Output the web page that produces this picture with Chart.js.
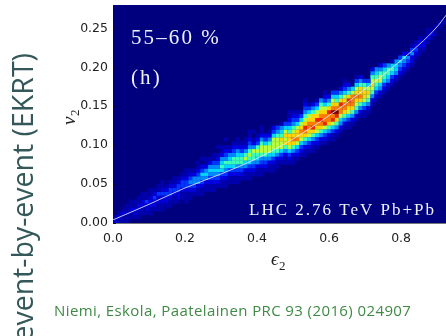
<!DOCTYPE html>
<html><head><meta charset="utf-8">
<script src="https://cdn.jsdelivr.net/npm/chart.js@4"></script>
<style>html,body{margin:0;background:#fff;overflow:hidden}#w{width:446px;height:336px;overflow:hidden;filter:blur(0.45px)}canvas{display:block}</style>
</head><body><div id="w"><canvas id="c" width="449" height="336"></canvas></div>
<script>
const xTicks=[0,0.2,0.4,0.6,0.8];
const yTicks=[0,0.05,0.10,0.15,0.20,0.25];
const xBin=0.011, yBin=0.005;
// one entry per eps2 column: first v2 row, then count level per row going up
const colStart=[0,0,0,0,1,1,1,2,2,2,3,3,3,4,4,5,5,6,5,6,7,7,7,8,8,8,9,9,9,10,10,10,11,11,11,12,12,12,13,13,13,14,15,15,15,15,16,17,17,18,18,19,20,20,21,21,22,23,24,24,25,26,27,27,28,30,31,32,33,34,35,36,37,38,39,40,42,43,44,46,47,48,50,51];
const colLevels=[
"21","121","1121","11211","11211","12211","112211","112211","122311","1122211",
"122321","1122311","11223211","122321","1123321","1123211","1223321","1123321","111233211","11234321",
"12344210","112443211","1123453201","112454211","1123454210","11234543110","12345432101","112356542110","1123456432101","11235654210",
"112356643210","1123466542110","12346653210","112457642110","1123567643211","123466742101","112456763210","1123467764211","12346775320","11245776421",
"1123567775320","11246777643","12357786541","11246878753","12357888653211","11246898764321","1235798875321","123578987531","1124689a8764321","1235789987531",
"112468a988642","1235789a87531","124689a98764","12357a99875321","1246899a8642","11357a9b98753","12468ab98653","1245799a8642","1246899875321","1135789a8642",
"1246899975","124678987531","12468988642","1135788763","124678753","1246787642","123567654","124577642","12356653","1245664",
"1235651","124554","123453","123452","12342","122431","12321","11221","1221","1211",
"121","111","11","1"
];
const lineE=[0,0.1,0.2,0.3,0.4,0.5,0.6,0.7,0.8,0.9,0.925];
const lineV=[0.004,0.024,0.045,0.063,0.083,0.108,0.138,0.172,0.209,0.252,0.267];
const labelCent="55\u201360 %", labelPanel="(h)", labelBeam="LHC 2.76 TeV Pb+Pb";
const sideLabel="event-by-event (EKRT)";
const citation="Niemi, Eskola, Paatelainen PRC 93 (2016) 024907";
const levelColors={1:"#0000ad",2:"#0000e0",3:"#0034ff",4:"#0088ff",5:"#00d4ff",6:"#3effb8",7:"#b8ff3e",8:"#ffd400",9:"#ff7a00",a:"#f02000",b:"#800000"};

const cells={};
colLevels.forEach((s,i)=>{[...s].forEach((ch,k)=>{
  if(ch==="0")return;
  (cells[ch]=cells[ch]||[]).push({x:(i+0.5)*xBin,y:(colStart[i]+k+0.5)*yBin});
});});
const datasets=Object.keys(cells).map(k=>({type:"scatter",data:cells[k],pointStyle:"rect",pointRadius:2.9,pointHoverRadius:2.9,pointBorderWidth:0,backgroundColor:levelColors[k],borderWidth:0,order:2,clip:true}));
datasets.push({type:"scatter",showLine:true,data:lineE.map((e,i)=>({x:e,y:lineV[i]})),pointRadius:0,borderColor:"rgba(225,232,255,0.85)",borderWidth:1,cubicInterpolationMode:"monotone",order:0});

const textPlugin={id:"t",
 beforeDatasetsDraw(ch){const a=ch.chartArea,c=ch.ctx;c.save();c.fillStyle="#00007f";c.fillRect(a.left,a.top,a.right-a.left,a.bottom-a.top);c.restore();},
 afterDraw(ch){const c=ch.ctx,a=ch.chartArea,sx=ch.scales.x,sy=ch.scales.y;c.save();
  c.strokeStyle="#111";c.lineWidth=1;c.beginPath();
  xTicks.forEach(v=>{const p=Math.round(sx.getPixelForValue(v))+.5;c.moveTo(p,a.top);c.lineTo(p,a.top+3);c.moveTo(p,a.bottom);c.lineTo(p,a.bottom-3);});
  yTicks.forEach(v=>{const p=Math.round(sy.getPixelForValue(v))+.5;c.moveTo(a.left,p);c.lineTo(a.left+3,p);});
  c.stroke();
  c.fillStyle="#eef2ff";c.textBaseline="alphabetic";
  c.font='21px "Liberation Serif"';c.letterSpacing="2.1px";
  c.fillText(labelCent,131,44);c.fillText(labelPanel,131,84);
  c.font='17px "Liberation Serif"';c.letterSpacing="2px";
  c.fillText(labelBeam,249,215);
  c.letterSpacing="0px";
  c.fillStyle="#222";
  c.save();c.translate(75,125);c.rotate(-Math.PI/2);
  c.font='italic 19px "Liberation Serif"';c.fillText("v",0,0);
  c.font='13px "Liberation Serif"';c.fillText("2",9,4);c.restore();
  c.font='italic 19px "Liberation Serif"';c.fillText("\u03f5",271,265);
  c.font='13px "Liberation Serif"';c.fillText("2",279,270);
  c.fillStyle="#3f8a45";c.font='15px "Open Sans"';c.letterSpacing="0.4px";c.fillText(citation,54,316);c.letterSpacing="0px";
  c.save();c.translate(33,53);c.rotate(-Math.PI/2);c.textAlign="right";
  c.fillStyle="#34585a";c.font='28.5px "Open Sans"';c.fillText(sideLabel,0,0);c.restore();
  c.restore();
 }};

new Chart(document.getElementById("c"),{
 data:{datasets},
 plugins:[textPlugin],
 options:{responsive:false,animation:false,events:[],
  layout:{padding:{top:5,right:0,left:0,bottom:0}},
  plugins:{legend:{display:false},tooltip:{enabled:false}},
  scales:{
   x:{type:"linear",min:0,max:0.925,afterFit:s=>{s.height=113;s.paddingLeft=0;s.paddingRight=0;},
      afterBuildTicks:s=>{s.ticks=xTicks.map(v=>({value:v}));},
      border:{color:"#777"},grid:{display:false,drawTicks:false},
      ticks:{color:"#222",padding:8,maxRotation:0,font:{family:"DejaVu Sans",size:12.5},callback:v=>v.toFixed(1)}},
   y:{type:"linear",min:0,max:0.28,afterFit:s=>{s.width=113;s.paddingTop=0;s.paddingBottom=0;},
      afterBuildTicks:s=>{s.ticks=yTicks.map(v=>({value:v}));},
      border:{color:"#999"},grid:{display:false,drawTicks:false},
      ticks:{color:"#222",padding:5,font:{family:"DejaVu Sans",size:12.5},callback:v=>v.toFixed(2)}}
  }
 }
});
</script></body></html>
